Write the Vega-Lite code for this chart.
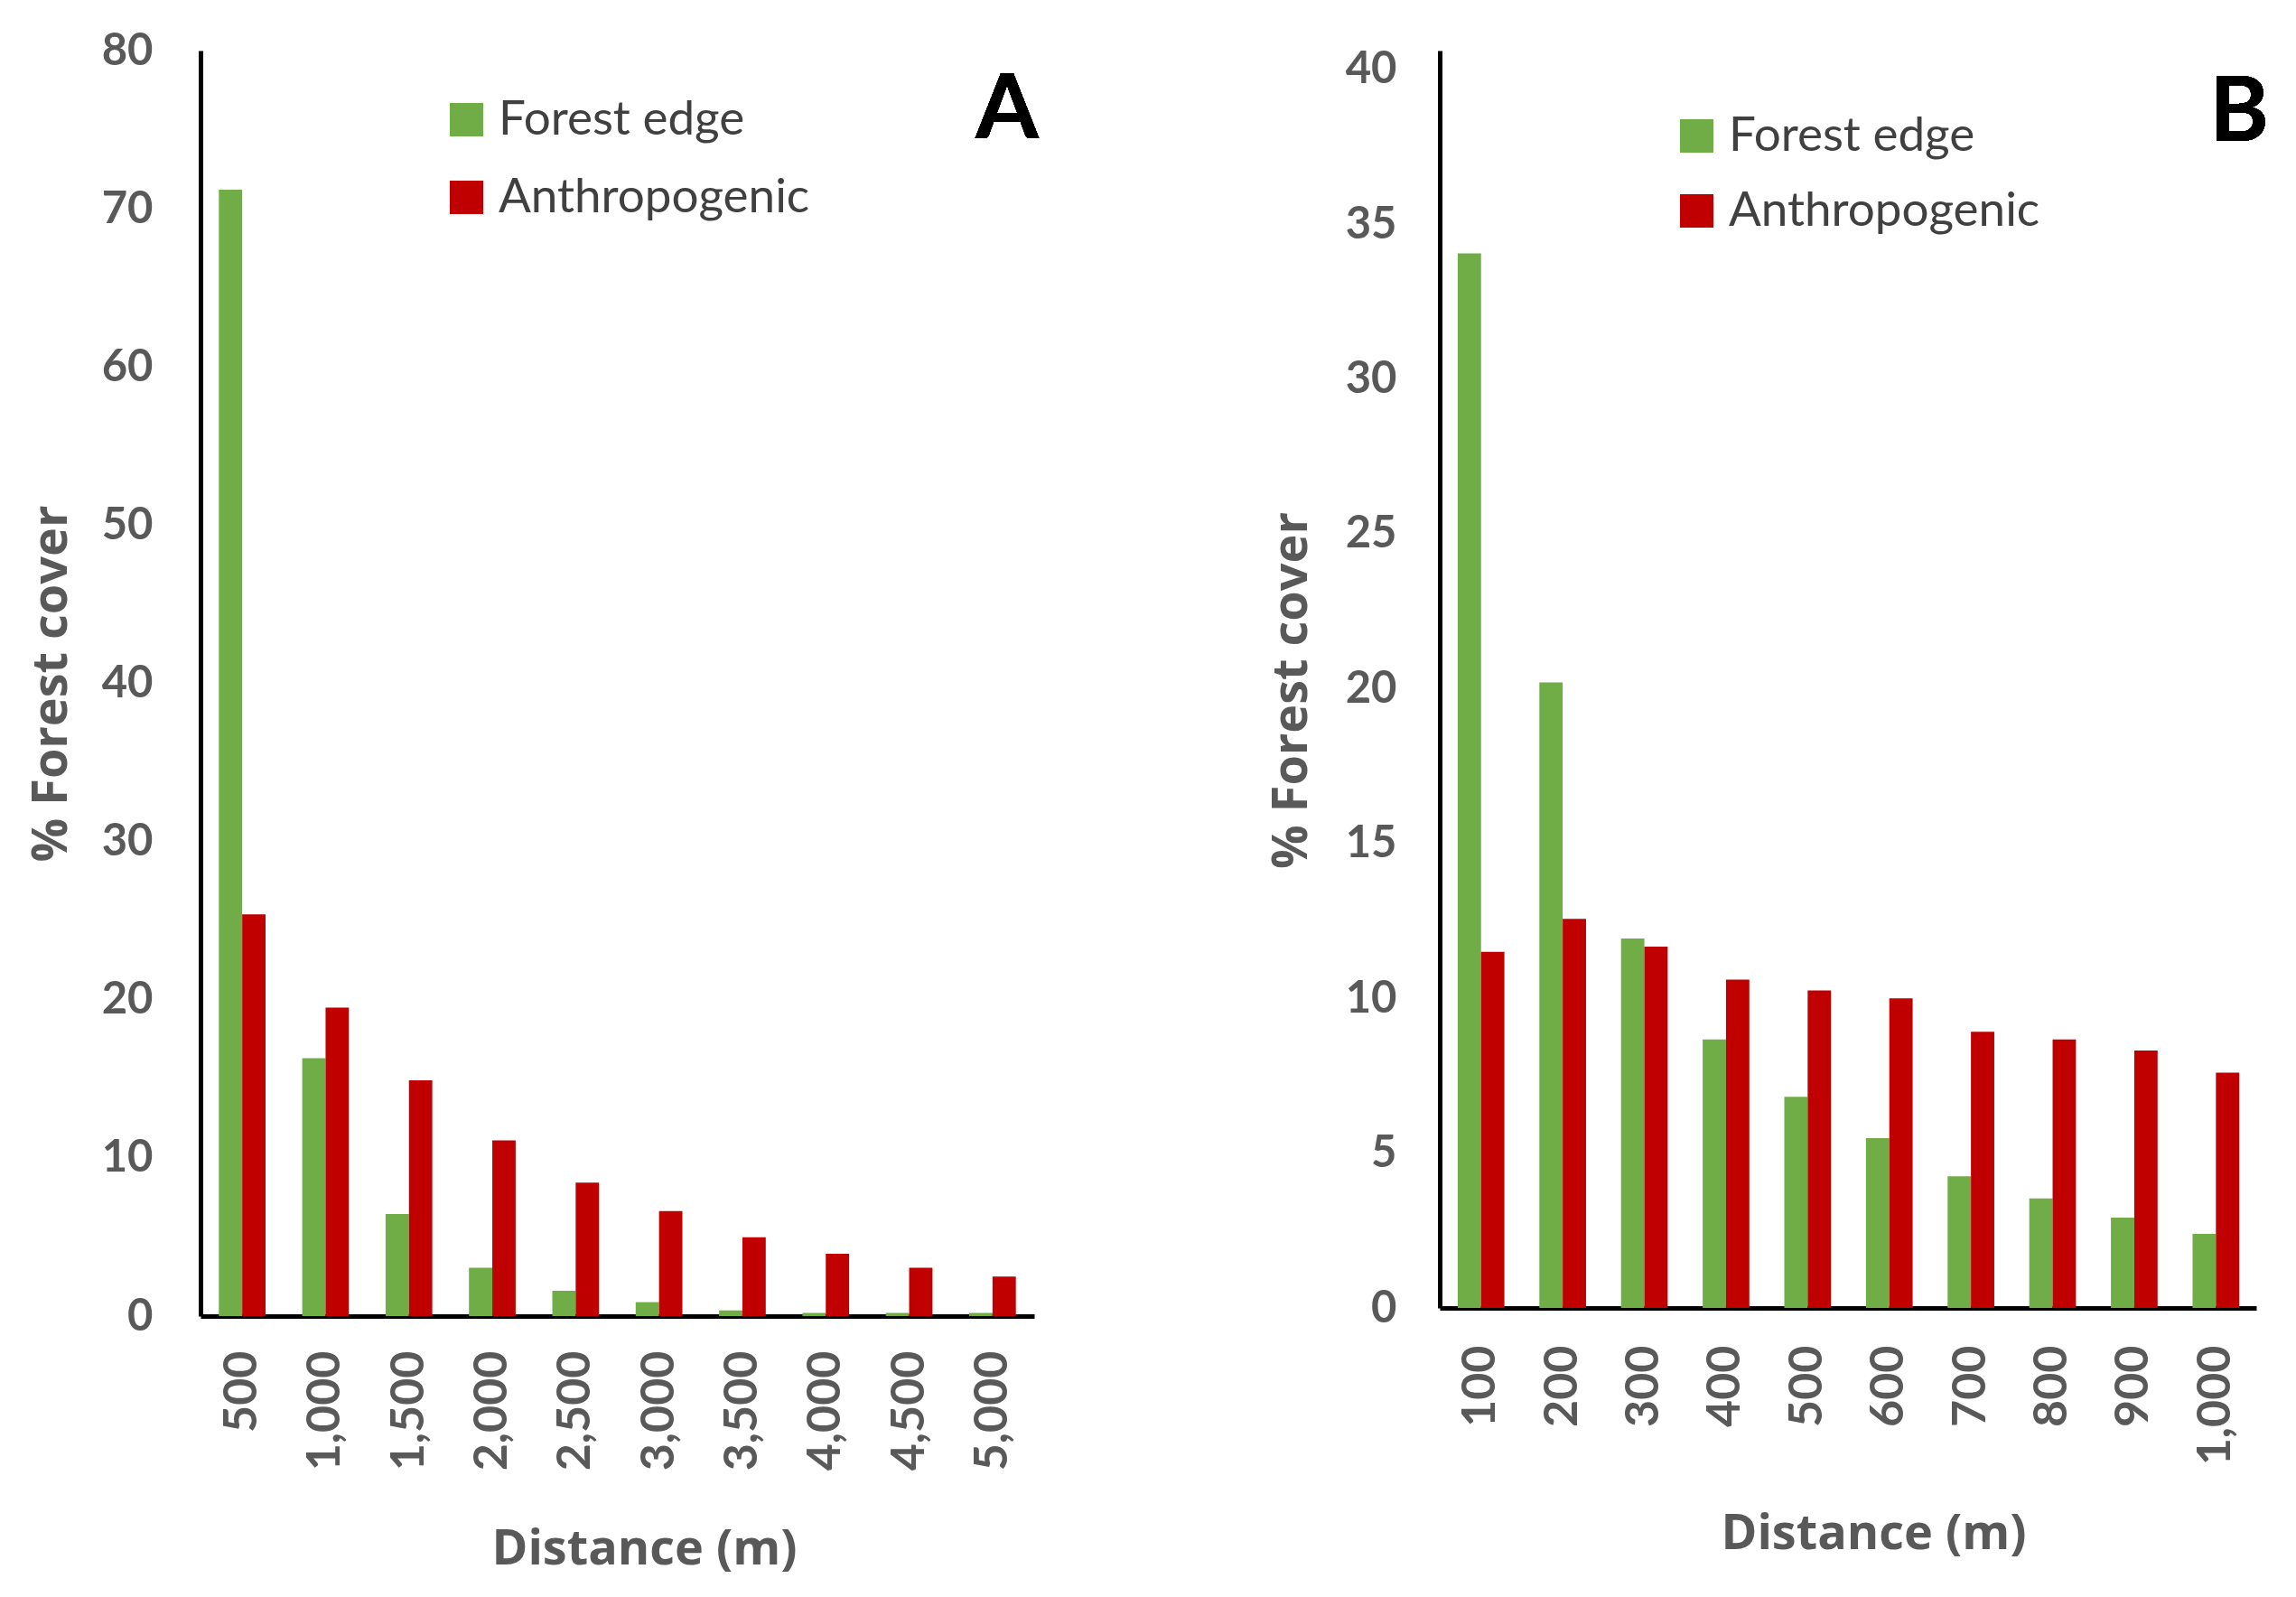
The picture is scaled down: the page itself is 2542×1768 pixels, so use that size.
{
  "$schema": "https://vega.github.io/schema/vega-lite/v6.json",
  "padding": {"left": 30, "top": 32, "right": 10, "bottom": 10},
  "background": "white",
  "config": {
    "view": {"stroke": null},
    "axis": {
      "domainColor": "black",
      "domainWidth": 5,
      "ticks": false,
      "grid": false,
      "labelFont": "Lato",
      "labelFontSize": 49,
      "labelFontWeight": "bold",
      "labelColor": "#595959",
      "titleColor": "#595959",
      "titleFontWeight": "bold"
    },
    "legend": {
      "orient": "none",
      "direction": "vertical",
      "symbolType": "square",
      "symbolSize": 1369,
      "symbolStrokeWidth": 0,
      "labelFont": "Lato",
      "labelFontSize": 53,
      "labelLimit": 0,
      "labelColor": "#404040",
      "labelOffset": 9,
      "rowPadding": 32,
      "title": null
    }
  },
  "datasets": {
    "panelA": [
      {"distance": "500", "type": "Forest edge", "value": 71.2},
      {"distance": "500", "type": "Anthropogenic", "value": 25.4},
      {"distance": "1,000", "type": "Forest edge", "value": 16.3},
      {"distance": "1,000", "type": "Anthropogenic", "value": 19.5},
      {"distance": "1,500", "type": "Forest edge", "value": 6.45},
      {"distance": "1,500", "type": "Anthropogenic", "value": 14.9},
      {"distance": "2,000", "type": "Forest edge", "value": 3.06},
      {"distance": "2,000", "type": "Anthropogenic", "value": 11.1},
      {"distance": "2,500", "type": "Forest edge", "value": 1.6},
      {"distance": "2,500", "type": "Anthropogenic", "value": 8.44},
      {"distance": "3,000", "type": "Forest edge", "value": 0.88},
      {"distance": "3,000", "type": "Anthropogenic", "value": 6.64},
      {"distance": "3,500", "type": "Forest edge", "value": 0.36},
      {"distance": "3,500", "type": "Anthropogenic", "value": 4.98},
      {"distance": "4,000", "type": "Forest edge", "value": 0.2},
      {"distance": "4,000", "type": "Anthropogenic", "value": 3.94},
      {"distance": "4,500", "type": "Forest edge", "value": 0.2},
      {"distance": "4,500", "type": "Anthropogenic", "value": 3.06},
      {"distance": "5,000", "type": "Forest edge", "value": 0.2},
      {"distance": "5,000", "type": "Anthropogenic", "value": 2.5}
    ],
    "panelB": [
      {"distance": "100", "type": "Forest edge", "value": 34.05},
      {"distance": "100", "type": "Anthropogenic", "value": 11.5},
      {"distance": "200", "type": "Forest edge", "value": 20.2},
      {"distance": "200", "type": "Anthropogenic", "value": 12.56},
      {"distance": "300", "type": "Forest edge", "value": 11.93},
      {"distance": "300", "type": "Anthropogenic", "value": 11.67},
      {"distance": "400", "type": "Forest edge", "value": 8.67},
      {"distance": "400", "type": "Anthropogenic", "value": 10.6},
      {"distance": "500", "type": "Forest edge", "value": 6.82},
      {"distance": "500", "type": "Anthropogenic", "value": 10.25},
      {"distance": "600", "type": "Forest edge", "value": 5.48},
      {"distance": "600", "type": "Anthropogenic", "value": 10.0},
      {"distance": "700", "type": "Forest edge", "value": 4.25},
      {"distance": "700", "type": "Anthropogenic", "value": 8.92},
      {"distance": "800", "type": "Forest edge", "value": 3.54},
      {"distance": "800", "type": "Anthropogenic", "value": 8.67},
      {"distance": "900", "type": "Forest edge", "value": 2.92},
      {"distance": "900", "type": "Anthropogenic", "value": 8.31},
      {"distance": "1,000", "type": "Forest edge", "value": 2.39},
      {"distance": "1,000", "type": "Anthropogenic", "value": 7.6}
    ]
  },
  "spacing": 253,
  "resolve": {"scale": {"color": "independent"}, "legend": {"color": "independent"}},
  "hconcat": [
    {
      "width": 923,
      "height": 1401,
      "data": {"name": "panelA"},
      "layer": [
        {
          "mark": {"type": "bar"},
          "encoding": {
            "x": {
              "field": "distance", "type": "ordinal", "sort": null,
              "scale": {"paddingInner": 0.44, "paddingOuter": 0.22},
              "axis": {"labelAngle": -90, "labelFontSize": 52, "labelPadding": 38, "title": "Distance (m)", "titleFont": "Open Sans", "titleFontSize": 54, "titlePadding": 61, "titleX": 491}
            },
            "xOffset": {"field": "type", "sort": ["Forest edge", "Anthropogenic"], "scale": {"paddingInner": 0, "paddingOuter": 0}},
            "y": {
              "field": "value", "type": "quantitative",
              "scale": {"domain": [0, 80]},
              "axis": {"values": [0, 10, 20, 30, 40, 50, 60, 70, 80], "labelPadding": 53, "title": "% Forest cover", "titleFont": "Open Sans", "titleFontSize": 54, "titlePadding": 28}
            },
            "color": {
              "field": "type", "type": "nominal",
              "scale": {"domain": ["Forest edge", "Anthropogenic"], "range": ["#70AD47", "#C00000"]},
              "legend": {"legendX": 268, "legendY": 50}
            }
          }
        },
        {
          "mark": {"type": "text", "text": "A", "font": "Lato", "fontSize": 100, "fontWeight": "bold", "color": "black", "dx": 16, "baseline": "middle", "align": "center"},
          "encoding": {"x": {"datum": "5,000"}, "y": {"datum": 76.2}}
        }
      ]
    },
    {
      "width": 904,
      "height": 1392,
      "data": {"name": "panelB"},
      "layer": [
        {
          "mark": {"type": "bar"},
          "encoding": {
            "x": {
              "field": "distance", "type": "ordinal", "sort": null,
              "scale": {"paddingInner": 0.44, "paddingOuter": 0.22},
              "axis": {"labelAngle": -90, "labelFontSize": 52, "labelPadding": 41, "title": "Distance (m)", "titleFont": "Open Sans", "titleFontSize": 54, "titlePadding": 50, "titleX": 480}
            },
            "xOffset": {"field": "type", "sort": ["Forest edge", "Anthropogenic"], "scale": {"paddingInner": 0, "paddingOuter": 0}},
            "y": {
              "field": "value", "type": "quantitative",
              "scale": {"domain": [0, 40.6], "nice": false},
              "axis": {"values": [0, 5, 10, 15, 20, 25, 30, 35, 40], "labelPadding": 48, "title": "% Forest cover", "titleFont": "Open Sans", "titleFontSize": 54, "titlePadding": 32, "titleY": 708}
            },
            "color": {
              "field": "type", "type": "nominal",
              "scale": {"domain": ["Forest edge", "Anthropogenic"], "range": ["#70AD47", "#C00000"]},
              "legend": {"legendX": 258, "legendY": 68, "rowPadding": 29}
            }
          }
        },
        {
          "mark": {"type": "text", "text": "B", "font": "Lato", "fontSize": 100, "fontWeight": "bold", "color": "black", "dx": 26, "baseline": "middle", "align": "center"},
          "encoding": {"x": {"datum": "1,000"}, "y": {"datum": 38.55}}
        }
      ]
    }
  ]
}
